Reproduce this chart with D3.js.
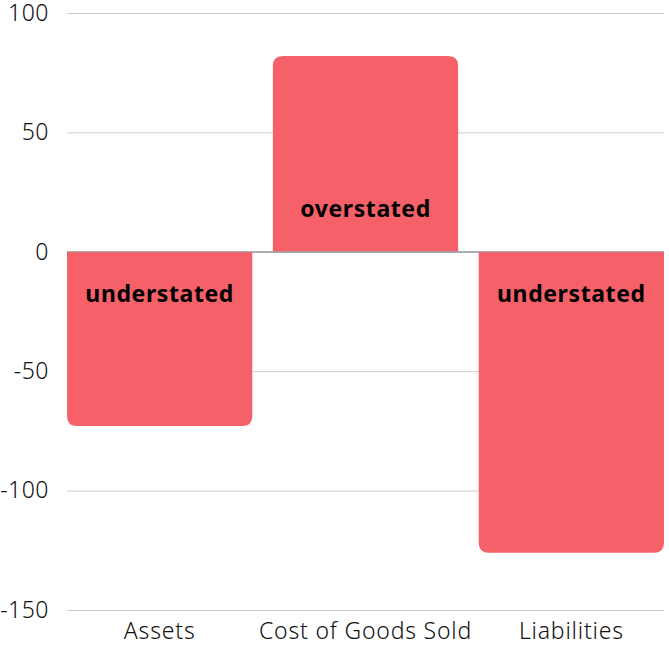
<!DOCTYPE html>
<html>
<head>
<meta charset="utf-8">
<script src="https://cdn.jsdelivr.net/npm/d3@7"></script>
<style>
  body { margin: 0; background: #fff; }
  text { font-family: "Noto Sans", sans-serif; }
</style>
</head>
<body>
<div id="chart"></div>
<script>
// Data
const categories = ['Assets', 'Cost of Goods Sold', 'Liabilities'];
const values = [-73, 82, -126];
const barLabels = ['understated', 'overstated', 'understated'];
const yTicks = [100, 50, 0, -50, -100, -150];

const width = 669;
const height = 648;
const margin = { top: 13, right: 5, bottom: 38, left: 67 };
const barColor = '#f66068';
const radius = 10;

const svg = d3.select('#chart')
    .append('svg')
    .attr('width', width)
    .attr('height', height);

const x = d3.scaleBand()
    .domain(categories)
    .range([margin.left, width - margin.right])
    .paddingInner(0.1)
    .paddingOuter(0);

const y = d3.scaleLinear()
    .domain([-150, 100])
    .range([height - margin.bottom, margin.top]);

// Gridlines + y tick labels (plain hyphen for negatives, like the original)
const yAxis = svg.append('g')
    .attr('transform', `translate(${margin.left},0)`)
    .call(d3.axisLeft(y)
        .tickValues(yTicks)
        .tickSize(-(width - margin.left - margin.right))
        .tickPadding(18)
        .tickFormat(d => String(d)));
yAxis.select('.domain').remove();
yAxis.selectAll('.tick line')
    .attr('stroke', d => d === 0 ? '#9a9a9a' : '#cccccc')
    .attr('stroke-width', 1);
yAxis.selectAll('.tick text')
    .attr('fill', '#111')
    .style('font-size', '23px')
    .style('font-weight', 300)
    .style('letter-spacing', '0.5px');

// Bar path: rounded only at the far end from zero
function barPath(d, i) {
    const x0 = x(categories[i]);
    const w = x.bandwidth();
    const y0 = y(0);
    const y1 = y(d);
    const r = Math.min(radius, Math.abs(y1 - y0));
    if (d >= 0) {
        return `M${x0},${y0}V${y1 + r}Q${x0},${y1} ${x0 + r},${y1}` +
            `H${x0 + w - r}Q${x0 + w},${y1} ${x0 + w},${y1 + r}V${y0}Z`;
    }
    return `M${x0},${y0}V${y1 - r}Q${x0},${y1} ${x0 + r},${y1}` +
        `H${x0 + w - r}Q${x0 + w},${y1} ${x0 + w},${y1 - r}V${y0}Z`;
}

svg.append('g')
    .selectAll('path')
    .data(values)
    .enter()
    .append('path')
    .attr('d', barPath)
    .attr('fill', barColor);

// Zero line on top of bars
svg.append('line')
    .attr('x1', margin.left)
    .attr('x2', width - margin.right)
    .attr('y1', y(0))
    .attr('y2', y(0))
    .attr('stroke', '#9a9a9a');

// Labels inside bars
svg.append('g')
    .selectAll('text')
    .data(values)
    .enter()
    .append('text')
    .attr('x', (d, i) => x(categories[i]) + x.bandwidth() / 2)
    .attr('y', d => d >= 0 ? y(0) - 43 : y(0) + 42)
    .attr('dy', '0.35em')
    .attr('text-anchor', 'middle')
    .style('font-size', '23px')
    .style('font-weight', 700)
    .style('letter-spacing', '0.6px')
    .attr('fill', '#000')
    .text((d, i) => barLabels[i]);

// Category axis labels
const xAxis = svg.append('g')
    .attr('transform', `translate(0,${height - margin.bottom})`)
    .call(d3.axisBottom(x).tickSize(0).tickPadding(13));
xAxis.select('.domain').remove();
xAxis.selectAll('.tick text')
    .attr('fill', '#111')
    .style('font-size', '23px')
    .style('font-weight', 300)
    .style('letter-spacing', '0.8px');
</script>
</body>
</html>
